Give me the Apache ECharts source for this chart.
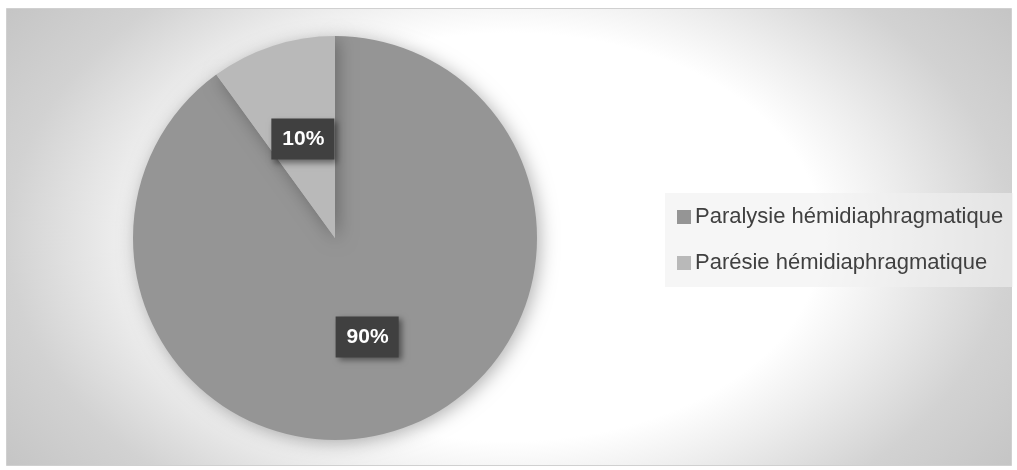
<!DOCTYPE html>
<html>
<head>
<meta charset="utf-8">
<script src="https://cdn.jsdelivr.net/npm/echarts@6/dist/echarts.min.js"></script>
<style>
  html, body { margin: 0; padding: 0; background: #fff; }
  #chart { width: 1017px; height: 470px; }
</style>
</head>
<body>
<div id="chart"></div>
<script>
const categories = ['Paralysie hémidiaphragmatique', 'Parésie hémidiaphragmatique'];
const values = [90, 10];
const sliceColors = ['#959595', '#b9b9b9'];

const chart = echarts.init(document.getElementById('chart'));

// background: elliptical radial gradient, drawn in a taller box and squashed
const bgH = 700;
const option = {
  animation: false,
  graphic: [
    {
      type: 'rect',
      z: -10,
      x: 6.5,
      y: 8.5,
      scaleY: 457 / bgH,
      shape: { x: 0, y: 0, width: 1005, height: bgH },
      style: {
        fill: new echarts.graphic.RadialGradient(0.5, 0.5, 0.93, [
          { offset: 0, color: '#ffffff' },
          { offset: 0.48, color: '#ffffff' },
          { offset: 0.6, color: '#ededed' },
          { offset: 0.77, color: '#d2d2d2' },
          { offset: 0.94, color: '#c5c5c5' },
          { offset: 1, color: '#c2c2c2' }
        ])
      }
    },
    {
      type: 'rect',
      z: -9,
      shape: { x: 6.5, y: 8.5, width: 1005, height: 457 },
      style: { fill: null, stroke: '#d0d0d0', lineWidth: 1 }
    }
  ],
  legend: {
    orient: 'vertical',
    left: 665,
    top: 193,
    padding: [13, 10, 13, 12],
    itemGap: 24,
    icon: 'rect',
    itemWidth: 14,
    itemHeight: 14,
    backgroundColor: 'rgba(240,240,240,0.6)',
    textStyle: {
      fontFamily: 'Liberation Sans',
      fontSize: 22,
      color: '#404040',
      padding: [0, 0, 0, -1]
    },
    data: categories
  },
  series: [
    {
      type: 'pie',
      center: [335, 238],
      radius: [0, 202],
      startAngle: 90,
      clockwise: true,
      silent: true,
      data: categories.map((name, i) => ({
        name: name,
        value: values[i],
        itemStyle: { color: sliceColors[i] }
      })),
      itemStyle: {
        shadowBlur: 18,
        shadowColor: 'rgba(0,0,0,0.3)',
        shadowOffsetX: 3,
        shadowOffsetY: 3
      },
      label: {
        show: true,
        position: 'inside',
        formatter: '{d}%',
        fontFamily: 'Liberation Sans',
        fontWeight: 'bold',
        fontSize: 21,
        lineHeight: 21,
        color: '#ffffff',
        backgroundColor: '#404040',
        padding: [10, 10, 10, 11],
        shadowBlur: 6,
        shadowColor: 'rgba(0,0,0,0.45)',
        shadowOffsetX: 3,
        shadowOffsetY: 3
      },
      labelLine: { show: false }
    }
  ]
};

chart.setOption(option);
</script>
</body>
</html>
